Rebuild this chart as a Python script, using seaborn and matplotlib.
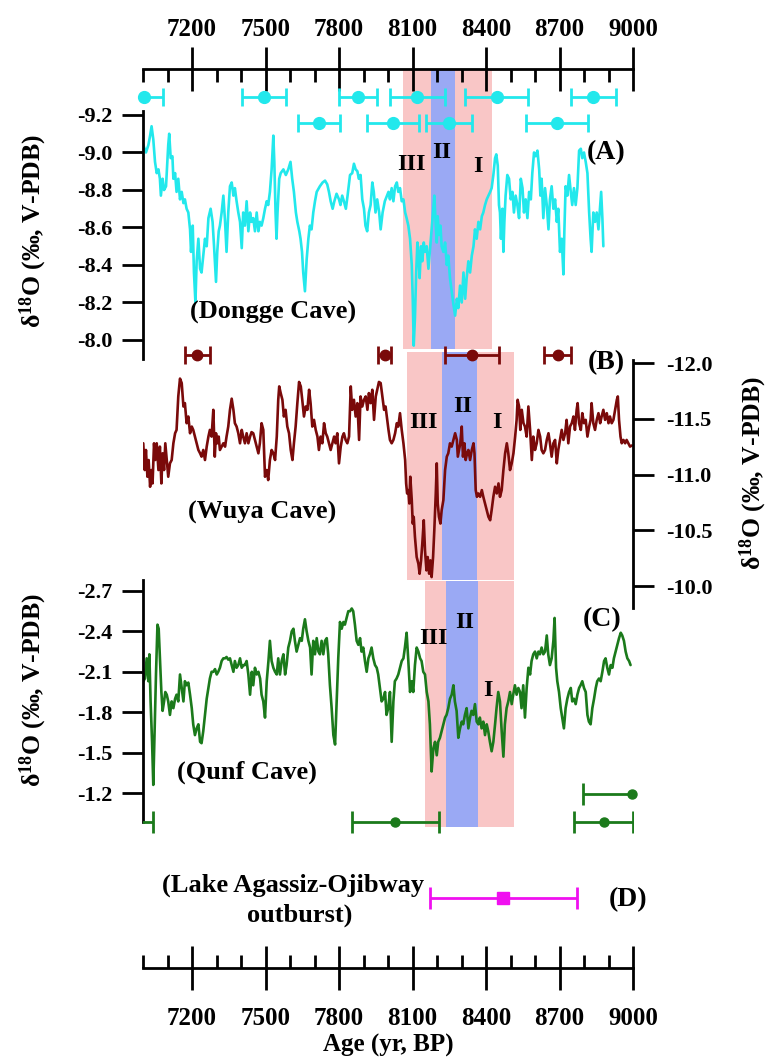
import numpy as np
import pandas as pd
import matplotlib
matplotlib.use("Agg")
import matplotlib.pyplot as plt
import seaborn as sns
from matplotlib.ticker import MultipleLocator, FormatStrFormatter

# ---------------- data ----------------
dongge_age = [7001,7012,7022,7029,7035,7042,7049,7056,7063,7069,7073,7080,7086,7094,7103,7107,7113,7120,7124,7131,
              7137,7144,7151,7158,7165,7171,7178,7185,7192,7196,7203,7208,7214,7219,7226,7233,7239,7246,7253,7260,
              7267,7276,7284,7290,7298,7303,7309,7314,7321,7328,7335,7341,7348,7355,7362,7369,7375,7382,7389,7396,
              7403,7409,7416,7423,7430,7437,7443,7450,7457,7464,7471,7477,7484,7491,7498,7505,7511,7518,7525,7532,
              7536,7541,7545,7549,7556,7562,7573,7583,7593,7602,7609,7616,7624,7630,7638,7643,7649,7654,7661,7668,
              7675,7681,7688,7695,7702,7709,7722,7733,7743,7752,7759,7766,7774,7781,7790,7800,7806,7813,7820,7828,
              7835,7845,7854,7861,7868,7875,7881,7888,7895,7902,7908,7915,7922,7929,7936,7942,7949,7956,7964,7970,
              7978,7987,
              8002,8008,8015,8022,8029,8036,8042,8049,8056,8063,8070,8076,8083,8090,8097,8101,8105,8110,8115,8120,
              8124,8129,8135,8140,8146,8151,8158,8165,8172,8178,8185,8189,8195,8199,8203,8208,8214,8219,8226,8233,
              8240,8246,8253,8260,8267,8274,8281,8287,8294,8301,8308,8315,8321,8328,8335,8342,8349,8355,8362,8369,
              8376,8383,8389,8396,8403,8410,8417,8423,8430,8437,8442,8448,8453,8457,8461,8467,8471,8475,8480,8487,
              8494,8501,8508,8514,8521,8528,8535,8542,8549,8555,8562,8569,8576,8583,8589,8596,8603,8610,8617,8622,
              8627,8634,8641,8648,8655,8661,8668,8675,8682,8689,8695,8702,8709,8716,8720,8725,8732,8739,8746,8752,
              8759,8766,8773,8780,8787,8793,8800,8807,8814,8821,8827,8831,8838,8845,8852,8859,8866,8870,8875,8879]
dongge_d18o = [-9.04,-9.00,-9.04,-9.09,-9.14,-9.07,-8.95,-8.89,-8.91,-8.86,-8.77,-8.86,-8.80,-8.82,-9.04,-9.10,-8.97,-8.98,-8.86,-8.89,
               -8.79,-8.86,-8.75,-8.79,-8.73,-8.75,-8.70,-8.68,-8.59,-8.47,-8.61,-8.36,-8.20,-8.42,-8.54,-8.38,-8.36,-8.45,-8.54,-8.50,
               -8.65,-8.70,-8.63,-8.50,-8.31,-8.47,-8.58,-8.61,-8.68,-8.77,-8.63,-8.47,-8.68,-8.82,-8.84,-8.77,-8.81,-8.74,-8.68,-8.63,
               -8.49,-8.68,-8.61,-8.74,-8.58,-8.68,-8.63,-8.65,-8.58,-8.68,-8.58,-8.63,-8.61,-8.65,-8.70,-8.74,-8.72,-8.79,-8.91,-9.09,
               -8.95,-8.68,-8.54,-8.68,-8.86,-8.89,-8.91,-8.88,-8.91,-8.95,-8.86,-8.79,-8.68,-8.63,-8.58,-8.54,-8.47,-8.36,-8.26,-8.43,
               -8.54,-8.61,-8.59,-8.68,-8.74,-8.79,-8.82,-8.84,-8.85,-8.83,-8.79,-8.74,-8.70,-8.74,-8.78,-8.75,-8.72,-8.77,-8.74,-8.70,
               -8.77,-8.88,-8.89,-8.94,-8.91,-8.90,-8.86,-8.88,-8.75,-8.70,-8.61,-8.58,-8.68,-8.72,-8.84,-8.79,-8.68,-8.75,-8.68,-8.59,
               -8.68,-8.74,
               -8.79,-8.75,-8.81,-8.74,-8.82,-8.84,-8.79,-8.81,-8.74,-8.75,-8.68,-8.65,-8.61,-8.54,-8.40,-8.22,-7.97,-8.12,-8.36,-8.52,
               -8.47,-8.33,-8.50,-8.42,-8.52,-8.47,-8.50,-8.38,-8.49,-8.59,-8.70,-8.77,-8.61,-8.52,-8.66,-8.56,-8.61,-8.50,-8.47,-8.52,
               -8.40,-8.45,-8.33,-8.26,-8.19,-8.13,-8.22,-8.17,-8.29,-8.20,-8.36,-8.22,-8.33,-8.42,-8.36,-8.45,-8.50,-8.59,-8.54,-8.63,
               -8.59,-8.66,-8.68,-8.72,-8.75,-8.77,-8.79,-8.81,-8.88,-8.97,-8.99,-8.93,-8.72,-8.68,-8.54,-8.70,-8.47,-8.63,-8.77,-8.88,
               -8.86,-8.75,-8.79,-8.68,-8.77,-8.72,-8.65,-8.86,-8.81,-8.68,-8.75,-8.65,-8.79,-8.75,-8.89,-9.00,-8.98,-9.01,-8.91,-8.77,
               -8.86,-8.65,-8.81,-8.72,-8.59,-8.75,-8.82,-8.70,-8.75,-8.63,-8.70,-8.47,-8.54,-8.35,-8.59,-8.82,-8.77,-8.88,-8.79,-8.72,
               -8.81,-8.72,-8.81,-9.01,-9.02,-8.97,-9.00,-8.95,-8.89,-8.68,-8.54,-8.47,-8.68,-8.63,-8.68,-8.59,-8.72,-8.79,-8.65,-8.50]

wuya_age = [7001,7007,7012,7018,7023,7029,7034,7039,7045,7050,7056,7063,7069,7075,7080,7086,7091,7097,7103,7110,
            7117,7124,7131,7137,7144,7151,7158,7165,7171,7178,7185,7192,7199,7205,7212,7219,7226,7233,7239,7246,
            7253,7260,7267,7273,7280,7287,7293,7298,7303,7309,7314,7321,7328,7335,7341,7348,7355,7362,7369,7375,
            7382,7389,7396,7403,7409,7416,7423,7430,7437,7443,7450,7457,7464,7471,7477,7484,7491,7498,7505,7511,
            7518,7525,7532,7539,7546,7552,7556,7562,7569,7575,7582,7589,7596,7603,7610,7616,7623,7630,7637,7644,
            7650,7657,7664,7671,7678,7684,7691,7698,7705,7712,7718,7725,7732,7739,7746,7752,7759,7766,7773,7780,
            7786,7793,7800,7807,7814,7820,7827,7834,7841,7848,7854,7861,7868,7875,7882,7888,7895,7902,7909,7916,
            7922,7929,7936,7943,7950,7956,7963,7970,7977,7984,7990,
            8002,8008,8015,8022,8029,8036,8042,8049,8056,8063,8070,8074,8078,8083,8087,8091,8097,8101,8105,8110,
            8117,8124,8129,8135,8140,8146,8151,8157,8162,8168,8173,8178,8184,8189,8195,8199,8203,8208,8214,8219,
            8226,8233,8240,8246,8253,8260,8267,8274,8281,8285,8290,8295,8301,8306,8312,8317,8323,8328,8335,8342,
            8349,8353,8358,8363,8369,8376,8383,8389,8396,8403,8410,8417,8423,8430,8437,8444,8451,8457,8464,8471,
            8478,8485,8491,8498,8505,8512,8519,8525,8529,8535,8540,8546,8553,8559,8566,8573,8580,8587,8593,8600,
            8607,8614,8621,8627,8634,8641,8648,8655,8661,8668,8675,8682,8689,8695,8702,8709,8716,8723,8729,8736,
            8743,8750,8757,8763,8770,8774,8780,8787,8793,8800,8807,8814,8821,8827,8831,8838,8845,8852,8859,8866,
            8872,8879,8886,8893,8900,8906,8913,8920,8927,8934,8938,8943,8949,8954,8961,8968,8974,8981,8988,8995]
wuya_d18o = [-11.28,-11.04,-11.22,-10.98,-11.13,-10.89,-11.04,-10.92,-11.28,-11.13,-11.28,-11.04,-11.25,-10.92,-11.19,-11.04,-11.28,-11.13,-10.98,-11.10,
             -11.13,-11.28,-11.37,-11.40,-11.70,-11.86,-11.82,-11.61,-11.64,-11.46,-11.52,-11.37,-11.43,-11.40,-11.34,-11.28,-11.22,-11.19,-11.16,-11.22,
             -11.13,-11.25,-11.34,-11.40,-11.34,-11.58,-11.16,-11.37,-11.28,-11.34,-11.22,-11.25,-11.28,-11.25,-11.34,-11.43,-11.58,-11.68,-11.58,-11.46,
             -11.43,-11.37,-11.28,-11.40,-11.34,-11.28,-11.37,-11.28,-11.34,-11.38,-11.37,-11.31,-11.25,-11.19,-11.28,-11.46,-11.40,-10.98,-11.04,-10.95,
             -11.13,-11.22,-11.19,-11.13,-11.34,-11.67,-11.79,-11.73,-11.67,-11.52,-11.58,-11.43,-11.37,-11.22,-11.13,-11.28,-11.43,-11.64,-11.83,-11.79,
             -11.67,-11.52,-11.61,-11.58,-11.76,-11.64,-11.43,-11.49,-11.40,-11.34,-11.22,-11.34,-11.28,-11.46,-11.37,-11.34,-11.28,-11.22,-11.28,-11.34,
             -11.28,-11.37,-11.10,-11.25,-11.34,-11.37,-11.31,-11.28,-11.34,-11.79,-11.58,-11.67,-11.52,-11.64,-11.31,-11.70,-11.61,-11.67,-11.70,-11.58,
             -11.73,-11.64,-11.76,-11.49,-11.70,-11.76,-11.83,-11.82,-11.70,-11.58,-11.61,
             -11.40,-11.31,-11.28,-11.31,-11.37,-11.46,-11.43,-11.55,-11.40,-11.28,-11.13,-10.92,-10.83,-10.86,-10.74,-10.98,-10.77,-10.56,-10.62,-10.44,
             -10.26,-10.20,-10.11,-10.23,-10.38,-10.59,-10.32,-10.14,-10.26,-10.11,-10.23,-10.08,-10.26,-10.50,-10.83,-11.10,-10.74,-10.62,-10.56,-10.68,
             -10.77,-11.04,-11.16,-11.19,-11.28,-11.25,-11.31,-11.37,-11.31,-11.16,-11.22,-11.28,-11.43,-11.16,-11.28,-11.13,-11.19,-11.22,-11.13,-11.22,
             -11.28,-11.19,-10.86,-10.80,-10.83,-10.80,-10.86,-10.80,-10.74,-10.68,-10.62,-10.59,-10.68,-10.80,-10.89,-10.83,-10.92,-10.80,-10.86,-11.04,
             -11.19,-11.28,-11.19,-11.04,-11.10,-11.19,-11.34,-11.49,-11.67,-11.61,-11.40,-11.58,-11.46,-11.43,-11.34,-11.61,-11.40,-11.13,-11.34,-11.22,
             -11.28,-11.40,-11.34,-11.22,-11.19,-11.22,-11.31,-11.37,-11.28,-11.16,-11.28,-11.31,-11.10,-11.22,-11.31,-11.40,-11.31,-11.37,-11.49,-11.28,
             -11.43,-11.46,-11.52,-11.40,-11.58,-11.64,-11.46,-11.40,-11.55,-11.46,-11.49,-11.34,-11.43,-11.49,-11.64,-11.46,-11.40,-11.49,-11.55,-11.46,
             -11.52,-11.58,-11.49,-11.55,-11.46,-11.52,-11.46,-11.49,-11.58,-11.67,-11.70,-11.49,-11.34,-11.28,-11.31,-11.28,-11.31,-11.28,-11.25,-11.26]

qunf_age = [7001,7008,7015,7022,7026,7031,7037,7042,7048,7053,7059,7064,7069,7075,7080,7086,7091,7097,7103,7110,
            7117,7124,7131,7137,7144,7151,7158,7165,7171,7178,7185,7192,7199,7205,7212,7219,7226,7233,7239,7246,
            7253,7260,7267,7273,7280,7287,7294,7301,7307,7314,7321,7328,7335,7341,7348,7355,7362,7369,7375,7382,
            7389,7396,7403,7410,7416,7423,7430,7437,7444,7450,7457,7464,7471,7478,7484,7491,7498,7505,7512,7518,
            7525,7532,7539,7546,7552,7559,7566,7573,7580,7586,7593,7600,7607,7614,7620,7627,7634,7641,7648,7654,
            7661,7668,7675,7682,7688,7695,7702,7709,7716,7722,7729,7736,7743,7750,7756,7763,7770,7777,7784,7790,
            7797,7804,7811,7818,7824,7831,7838,7845,7852,7858,7865,7872,7879,7886,7892,7899,7906,7913,7920,7926,
            7933,7940,7947,7954,7960,7967,7974,7981,7988,7994,8001,8008,8015,8022,8028,8035,8042,8049,8056,8063,
            8069,8076,8083,8090,8097,8103,8110,8117,8124,8131,8137,8144,8151,8158,8165,8171,8178,8185,8192,8199,
            8205,8212,8219,8226,8233,8239,8246,8253,8260,8267,8273,8280,8287,8294,8301,8307,8314,8321,8328,8335,
            8341,8348,8355,8362,8369,8375,8382,8389,8396,8403,8409,8416,8423,8430,8437,8443,8450,8457,8464,8471,
            8477,8484,8491,8498,8505,8511,8518,8525,8532,8539,8545,8552,8559,8566,8573,8580,8586,8593,8600,8607,
            8614,8620,8627,8634,8641,8648,8654,8661,8668,8675,8680,8686,8691,8698,8705,8711,8718,8725,8732,8739,
            8746,8752,8759,8766,8773,8780,8786,8793,8800,8807,8814,8820,8827,8834,8841,8848,8854,8861,8868,8875,
            8882,8888,8895,8902,8909,8916,8922,8929,8936,8943,8950,8956,8963,8970,8977,8984,8990]
qunf_d18o = [-2.03,-2.05,-2.20,-2.03,-2.23,-1.88,-1.58,-1.26,-1.71,-2.08,-2.45,-2.42,-2.20,-1.95,-1.81,-1.88,-1.95,-1.93,-1.88,-1.78,
             -1.88,-1.83,-1.90,-1.93,-1.88,-2.08,-1.98,-1.88,-2.03,-2.00,-2.02,-1.93,-1.83,-1.71,-1.63,-1.68,-1.71,-1.58,-1.57,-1.66,
             -1.78,-1.90,-1.98,-2.05,-2.10,-2.10,-2.12,-2.08,-2.10,-2.13,-2.18,-2.20,-2.20,-2.21,-2.19,-2.20,-2.15,-2.10,-2.18,-2.13,
             -2.15,-2.20,-2.13,-2.15,-2.15,-2.18,-2.08,-1.93,-2.10,-2.00,-2.13,-2.08,-2.10,-2.05,-1.93,-1.88,-1.76,-2.03,-2.18,-2.33,
             -2.18,-2.13,-2.10,-2.08,-2.20,-2.08,-2.18,-2.23,-2.08,-2.15,-2.28,-2.33,-2.40,-2.42,-2.33,-2.25,-2.30,-2.35,-2.33,-2.42,
             -2.49,-2.40,-2.33,-2.28,-2.08,-2.33,-2.23,-2.35,-2.25,-2.23,-2.33,-2.23,-2.33,-2.35,-2.23,-2.00,-1.83,-1.63,-1.56,-1.86,
             -2.20,-2.47,-2.42,-2.47,-2.45,-2.50,-2.55,-2.55,-2.57,-2.55,-2.45,-2.33,-2.30,-2.35,-2.25,-2.28,-2.18,-2.10,-2.20,-2.23,
             -2.28,-2.20,-2.15,-2.13,-2.08,-1.98,-1.88,-1.90,-1.95,-1.78,-1.83,-1.95,-1.58,-1.88,-2.03,-2.05,-2.08,-2.13,-2.18,-2.20,
             -2.28,-2.39,-2.18,-1.95,-2.03,-1.95,-2.15,-2.28,-2.25,-2.20,-2.18,-2.10,-2.08,-1.95,-1.88,-1.71,-1.36,-1.53,-1.58,-1.48,
             -1.58,-1.61,-1.66,-1.71,-1.76,-1.78,-1.83,-1.90,-1.93,-2.00,-1.88,-1.81,-1.61,-1.68,-1.73,-1.71,-1.78,-1.83,-1.68,-1.76,
             -1.81,-1.78,-1.86,-1.73,-1.71,-1.76,-1.68,-1.73,-1.63,-1.71,-1.66,-1.58,-1.51,-1.58,-1.71,-1.83,-1.95,-1.88,-1.66,-1.47,
             -1.71,-1.83,-1.88,-1.95,-1.86,-1.93,-2.00,-1.93,-1.98,-1.95,-1.83,-2.00,-1.76,-1.98,-2.13,-2.08,-2.18,-2.23,-2.25,-2.20,
             -2.25,-2.23,-2.28,-2.23,-2.25,-2.37,-2.23,-2.15,-2.20,-2.33,-2.50,-2.13,-2.03,-1.95,-1.83,-1.76,-1.68,-1.83,-1.90,-1.95,
             -1.98,-1.88,-1.90,-1.86,-1.93,-1.98,-2.00,-2.03,-1.98,-1.95,-1.78,-1.73,-1.71,-1.83,-1.90,-1.98,-2.03,-2.05,-2.03,-2.10,
             -2.18,-2.20,-2.13,-2.08,-2.15,-2.13,-2.20,-2.25,-2.30,-2.35,-2.39,-2.37,-2.33,-2.25,-2.20,-2.18,-2.15]

# U-Th dates (age, 2-sigma) and the row they sit on
dongge_date_age = [7005, 7493, 7878, 8120, 8444, 8838, 7719, 8021, 8249, 8690]
dongge_date_err = [75, 90, 78, 113, 128, 92, 87, 105, 93, 128]
dongge_date_row = [-9.296, -9.296, -9.296, -9.296, -9.296, -9.296, -9.157, -9.157, -9.157, -9.157]
wuya_date_age = [7222, 7986, 8342, 8693]
wuya_date_err = [52, 25, 111, 55]
wuya_date_row = [-12.072, -12.072, -12.072, -12.072]
qunf_date_age = [6965, 8030, 8880, 8995]
qunf_date_err = [77, 178, 122, 198]
qunf_date_row = [-0.985, -0.985, -0.985, -1.193]
outburst_age = [8470]
outburst_err = [300]

# event phases: III (pink), II (blue), I (pink) boundaries
dongge_events = [8060, 8176, 8273, 8424]
wuya_events = [8078, 8220, 8363, 8514]
qunf_events = [8151, 8237, 8367, 8514]

dongge_ticks = [-9.2, -9.0, -8.8, -8.6, -8.4, -8.2, -8.0]
wuya_ticks = [-12.0, -11.5, -11.0, -10.5, -10.0]
qunf_ticks = [-2.7, -2.4, -2.1, -1.8, -1.5, -1.2]

# ---------------- style ----------------
sns.set_theme(style="white")
plt.rcParams.update({
    "font.family": ["Liberation Serif", "DejaVu Serif"],
    "font.weight": "bold",
    "axes.unicode_minus": False,
    "mathtext.fontset": "custom",
    "mathtext.rm": "Liberation Serif:bold",
    "mathtext.it": "Liberation Serif:bold",
    "mathtext.bf": "Liberation Serif:bold",
    "text.color": "black",
    "axes.edgecolor": "black",
    "axes.labelcolor": "black",
    "xtick.color": "black",
    "ytick.color": "black",
})

W, H = 772, 1063
X0, X1 = 143, 633
PINK = "#F9C6C6"
BLUE = "#9AA9F4"
CYAN = "#22E8EC"
MAROON = "#7A0A0A"
GREEN = "#1B7A1B"
MAGENTA = "#F010F0"
SPW = 2.0
LW = 1.9


def rect(top, bottom):
    return [X0 / W, 1 - bottom / H, (X1 - X0) / W, (bottom - top) / H]


def ftext(x, y, s, **kw):
    kw.setdefault("ha", "center")
    kw.setdefault("va", "center")
    kw.setdefault("fontweight", "bold")
    fig.text(x / W, 1 - y / H, s, **kw)


def shade(ax, ev, ymin, ymax):
    ax.axvspan(ev[0], ev[1], ymin=ymin, ymax=ymax, color=PINK, lw=0, zorder=0)
    ax.axvspan(ev[1], ev[2], ymin=ymin, ymax=ymax, color=BLUE, lw=0, zorder=0)
    ax.axvspan(ev[2], ev[3], ymin=ymin, ymax=ymax, color=PINK, lw=0, zorder=0)


def dates(ax, age, err, row, color, ms, cap, lw=2.0):
    ax.errorbar(age, row, xerr=err, fmt="none", ecolor=color, elinewidth=lw,
                capsize=cap, capthick=lw, zorder=3)
    vis = [(a, r) for a, r in zip(age, row) if 7000 <= a <= 9000]
    ax.plot([v[0] for v in vis], [v[1] for v in vis], "o", color=color, ms=ms,
            clip_on=False, zorder=4)


fig = plt.figure(figsize=(W / 100, H / 100), dpi=100)

axA = fig.add_axes(rect(69, 358))
axB = fig.add_axes(rect(340, 610))
axC = fig.add_axes(rect(578, 836))
axD = fig.add_axes(rect(860, 968))
for ax in (axA, axB, axC, axD):
    ax.set_facecolor("none")
    ax.set_xlim(7000, 9000)
    for s in ax.spines.values():
        s.set_visible(False)
        s.set_linewidth(SPW)
    ax.grid(False)

# ---- panel A (Dongge) ----
shade(axA, dongge_events, (358 - 349) / (358 - 69), 1.0)
sns.lineplot(x=dongge_age, y=dongge_d18o, ax=axA, color=CYAN, lw=LW,
             estimator=None, sort=False, zorder=2)
dates(axA, dongge_date_age, dongge_date_err, dongge_date_row, CYAN, 8.5, 6.5)
axA.set_ylim(-8.0 + 18 / 187.5, -9.2 - 46 / 187.5)
axA.spines["top"].set_visible(True)
axA.spines["left"].set_visible(True)
axA.spines["left"].set_bounds(-9.22, -7.90)
axA.xaxis.set_major_locator(MultipleLocator(300))
axA.xaxis.set_minor_locator(MultipleLocator(100))
axA.tick_params(axis="x", which="major", top=True, bottom=False, labeltop=True,
                labelbottom=False, direction="inout", length=31.7, width=SPW,
                labelsize=18, pad=4)
axA.tick_params(axis="x", which="minor", top=True, bottom=False, direction="in",
                length=9.4, width=SPW)
axA.set_yticks(dongge_ticks)
axA.yaxis.set_major_formatter(FormatStrFormatter("%.1f"))
axA.tick_params(axis="y", left=True, direction="out", length=15, width=SPW,
                labelsize=16, pad=7)
axA.set_xlabel("")
axA.set_ylabel("")

# ---- panel B (Wuya) ----
shade(axB, wuya_events, (610 - 580) / 270, (610 - 352) / 270)
sns.lineplot(x=wuya_age, y=wuya_d18o, ax=axB, color=MAROON, lw=LW,
             estimator=None, sort=False, zorder=2)
dates(axB, wuya_date_age, wuya_date_err, wuya_date_row, MAROON, 7.5, 6.5)
axB.set_ylim(-10.0 + 24 / 111.5, -12.0 - 23 / 111.5)
axB.spines["right"].set_visible(True)
axB.spines["right"].set_bounds(-12.03, -9.80)
axB.yaxis.tick_right()
axB.set_yticks(wuya_ticks)
axB.yaxis.set_major_formatter(FormatStrFormatter("%.1f"))
axB.tick_params(axis="y", right=True, left=False, labelright=True, labelleft=False,
                direction="out", length=15, width=SPW, labelsize=16, pad=9)
axB.set_xticks([])
axB.set_xlabel("")
axB.set_ylabel("")

# ---- panel C (Qunf) ----
shade(axC, qunf_events, (836 - 827) / 258, (836 - 581) / 258)
sns.lineplot(x=qunf_age, y=qunf_d18o, ax=axC, color=GREEN, lw=LW,
             estimator=None, sort=False, zorder=2)
dates(axC, qunf_date_age, qunf_date_err, qunf_date_row, GREEN, 6.5, 8)
axC.set_ylim(-1.2 + 43 / 134.67, -2.7 - 13 / 134.67)
axC.spines["left"].set_visible(True)
axC.spines["left"].set_bounds(-2.78, -0.985)
axC.set_yticks(qunf_ticks)
axC.yaxis.set_major_formatter(FormatStrFormatter("%.1f"))
axC.tick_params(axis="y", left=True, direction="out", length=15, width=SPW,
                labelsize=16, pad=7)
axC.set_xticks([])
axC.set_xlabel("")
axC.set_ylabel("")

# ---- panel D (outburst) and bottom age axis ----
axD.set_ylim(0, 1)
axD.errorbar(outburst_age, [(968 - 898) / 108], xerr=outburst_err, fmt="s",
             color=MAGENTA, ms=9, elinewidth=2.0, capsize=8, capthick=2.0)
axD.spines["bottom"].set_visible(True)
axD.set_yticks([])
axD.xaxis.set_major_locator(MultipleLocator(300))
axD.xaxis.set_minor_locator(MultipleLocator(100))
axD.tick_params(axis="x", which="major", bottom=True, direction="inout",
                length=31.7, width=SPW, labelsize=18, pad=12)
axD.tick_params(axis="x", which="minor", bottom=True, direction="in",
                length=9.4, width=SPW)
axD.set_xlabel("Age (yr, BP)", fontsize=18, fontweight="bold", labelpad=3)

# ---- texts ----
ylab = "δ$^{18}$O (‰, V-PDB)"
ftext(33, 231, ylab, rotation=90, fontsize=18.5)
ftext(33, 690, ylab, rotation=90, fontsize=18.5)
ftext(753, 473, ylab, rotation=90, fontsize=18.5)

ftext(273, 312, "(Dongge Cave)", fontsize=19)
ftext(262, 512, "(Wuya Cave)", fontsize=19)
ftext(247, 772, "(Qunf Cave)", fontsize=19)
ftext(293, 885, "(Lake Agassiz-Ojibway", fontsize=19)
ftext(300, 915, "outburst)", fontsize=19)

ftext(606, 153, "(A)", fontsize=20)
ftext(606, 363, "(B)", fontsize=20)
ftext(602, 620, "(C)", fontsize=20)
ftext(628, 900, "(D)", fontsize=20)

for (x, y, s) in [(411, 165, "III"), (442, 153, "II"), (478, 167, "I"),
                  (423, 422, "III"), (463, 406, "II"), (497, 422, "I"),
                  (433, 638, "III"), (465, 622, "II"), (488, 690, "I")]:
    ftext(x, y, s, fontsize=17.5)

fig.savefig("out.png", dpi=100)
